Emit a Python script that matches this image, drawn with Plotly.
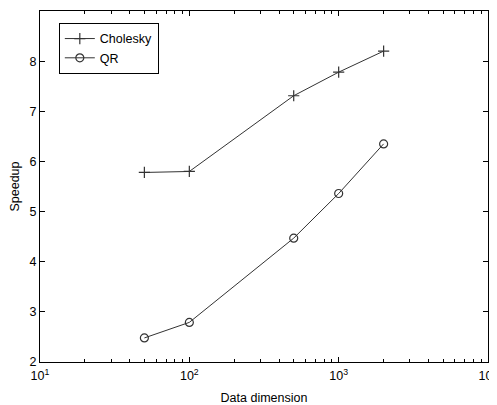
import plotly.graph_objects as go

dims = [50, 100, 500, 1000, 2000]
cholesky = [5.78, 5.80, 7.31, 7.78, 8.20]
qr = [2.48, 2.79, 4.47, 5.36, 6.35]
x_tickvals = [10, 100, 1000, 10000]
x_ticktext = ["10<sup>1</sup>", "10<sup>2</sup>", "10<sup>3</sup>", "10<sup>4</sup>"]
x_minor = [20, 30, 40, 50, 60, 70, 80, 90,
           200, 300, 400, 500, 600, 700, 800, 900,
           2000, 3000, 4000, 5000, 6000, 7000, 8000, 9000]

font = "Liberation Sans, Arial, sans-serif"
fs = 12.5

fig = go.Figure()
fig.add_trace(go.Scatter(x=dims, y=cholesky, name="Cholesky", mode="lines+markers",
                         line=dict(color="#333333", width=1),
                         marker=dict(symbol="cross-thin-open", size=8,
                                     line=dict(color="black", width=1.2))))
fig.add_trace(go.Scatter(x=dims, y=qr, name="QR", mode="lines+markers",
                         line=dict(color="#333333", width=1),
                         marker=dict(symbol="circle-open", size=8,
                                     line=dict(color="black", width=1.2))))

fig.update_layout(
    width=489, height=397,
    margin=dict(l=32, r=9, t=3, b=43),
    paper_bgcolor="white", plot_bgcolor="white",
    font=dict(family=font, size=fs, color="black"),
    showlegend=True,
    legend=dict(x=0.042, y=0.966, xanchor="left", yanchor="top",
                bordercolor="black", borderwidth=1, bgcolor="white",
                font=dict(family=font, size=fs), tracegroupgap=0),
    xaxis=dict(type="log", range=[1, 4], showgrid=False, zeroline=False,
               automargin=False,
               showline=True, linecolor="black", linewidth=1, mirror="ticks",
               ticks="inside", ticklen=5, tickcolor="black",
               tickvals=x_tickvals, ticktext=x_ticktext,
               tickfont=dict(family=font, size=fs),
               ticklabeloverflow="allow", ticklabelstandoff=2,
               minor=dict(ticks="inside", ticklen=3, tickcolor="black",
                          tickvals=x_minor, showgrid=False),
               title=dict(text="Data dimension", standoff=13,
                          font=dict(family=font, size=fs))),
    yaxis=dict(range=[2, 9], dtick=1, showgrid=False, zeroline=False,
               automargin=False,
               showline=True, linecolor="black", linewidth=1, mirror="ticks",
               ticks="inside", ticklen=5, tickcolor="black",
               tickfont=dict(family=font, size=fs),
               title=dict(text="Speedup", standoff=13,
                          font=dict(family=font, size=fs))),
)

fig.write_html("out.html")
